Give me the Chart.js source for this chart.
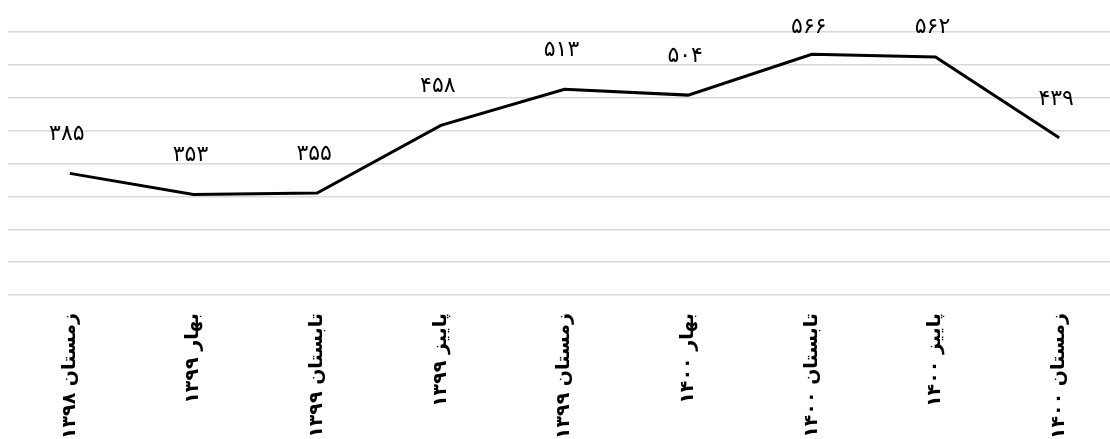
<!DOCTYPE html>
<html><head><meta charset="utf-8">
<script src="https://cdn.jsdelivr.net/npm/chart.js@4.4.0/dist/chart.umd.min.js"></script>
<style>
html,body{margin:0;padding:0;overflow:hidden;background:#fff;width:1110px;height:439px}
#wrap{position:absolute;left:0;top:0;width:1121px;height:460px}
</style></head><body>
<div id="wrap"><canvas id="c" width="1121" height="460"></canvas></div>
<script>
const categories = ["زمستان ۱۳۹۸","بهار ۱۳۹۹","تابستان ۱۳۹۹","پاییز ۱۳۹۹","زمستان ۱۳۹۹","بهار ۱۴۰۰","تابستان ۱۴۰۰","پاییز ۱۴۰۰","زمستان ۱۴۰۰"];
const values = [385, 353, 355, 458, 513, 504, 566, 562, 439];
const yMin = 200, yMax = 600, yStep = 50;

function toFa(n){ return String(n).replace(/\d/g, d => "۰۱۲۳۴۵۶۷۸۹"[d]); }

const valueLabels = {
  id: 'valueLabels',
  afterDatasetsDraw(chart){
    const ctx = chart.ctx;
    const meta = chart.getDatasetMeta(0);
    ctx.save();
    ctx.font = '22px "DejaVu Sans"';
    ctx.fillStyle = '#000';
    ctx.textAlign = 'center';
    ctx.textBaseline = 'middle';
    meta.data.forEach((pt, i) => {
      const y = Math.max(pt.y - 39, 27);
      ctx.fillText(toFa(values[i]), pt.x - 3, y);
    });
    ctx.restore();
  }
};

new Chart(document.getElementById('c'), {
  type: 'line',
  data: {
    labels: categories,
    datasets: [{
      data: values,
      borderColor: '#000',
      borderWidth: 3,
      pointRadius: 0,
      tension: 0,
      fill: false
    }]
  },
  options: {
    responsive: false,
    animation: false,
    devicePixelRatio: 1,
    layout: { padding: { left: 8, top: 32, right: 0, bottom: 0 } },
    plugins: { legend: { display: false }, tooltip: { enabled: false } },
    scales: {
      x: {
        offset: true,
        grid: { display: false },
        border: { display: false },
        ticks: {
          autoSkip: false,
          minRotation: 90,
          maxRotation: 90,
          padding: 10,
          color: '#000',
          font: { family: '"DejaVu Sans"', size: 19, weight: 'bold' }
        },
        afterFit(scale){ scale.height = 165; }
      },
      y: {
        min: yMin,
        max: yMax,
        grid: { color: '#d9d9d9', lineWidth: 1.5, drawTicks: false },
        border: { display: false },
        ticks: { display: false, stepSize: yStep }
      }
    }
  },
  plugins: [valueLabels]
});
</script>
</body></html>
